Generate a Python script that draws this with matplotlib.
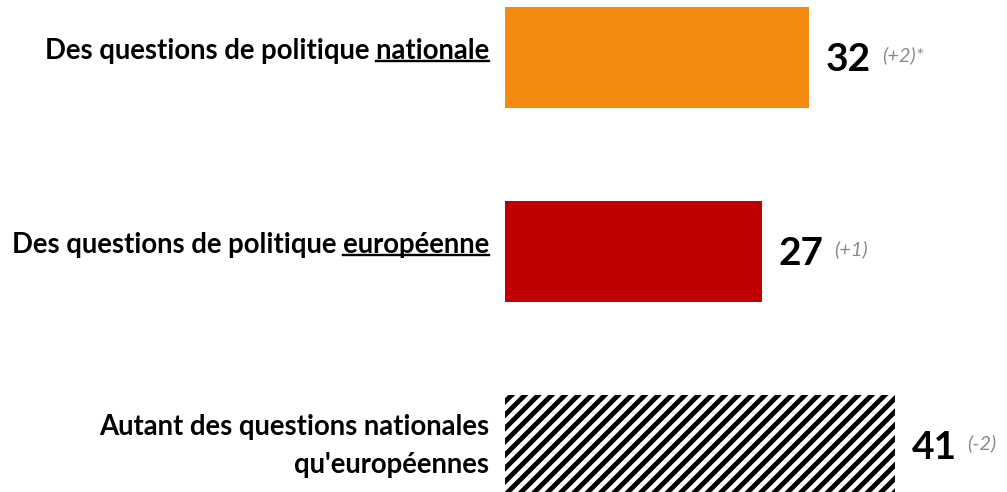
import matplotlib
matplotlib.use('Agg')
import matplotlib.pyplot as plt
import numpy as np

# data
labels = ['Des questions de politique nationale',
          'Des questions de politique européenne',
          "Autant des questions nationales\nqu'européennes"]
underlined = ['nationale', 'européenne', None]
values = [32, 27, 41]
deltas = ['(+2)*', '(+1)', '(-2)']
colors = ['#F18A0E', '#C00000', 'white']
hatches = [None, None, '//']

# lower dpi so the hatch stripes come out at the right spacing;
# S keeps point sizes equal to what they'd be at 100 dpi
DPI = 80
S = 100 / DPI

plt.rcParams['font.family'] = ['Lato', 'DejaVu Sans']
plt.rcParams['hatch.linewidth'] = 4.4

W, H = 1007, 492
fig = plt.figure(figsize=(W / DPI, H / DPI), dpi=DPI)
ax = fig.add_axes([505 / W, 0, 1 - 505 / W, 1])
px_per_unit = 9.5
ax.set_xlim(0, (W - 505) / px_per_unit)
spacing = 194
ax.set_ylim((H - 57.8) / spacing, -57.8 / spacing)
ax.axis('off')

y = np.arange(len(values))
for i in range(len(values)):
    ax.barh(y[i], values[i], height=101 / spacing, color=colors[i],
            hatch=hatches[i], edgecolor='black' if hatches[i] else colors[i],
            linewidth=0)

fig.canvas.draw()
r = fig.canvas.get_renderer()

lab_fs = 19.8 * S
for i, (lab, v, d) in enumerate(zip(labels, values, deltas)):
    dy = -0.035 if '\n' not in lab else 0.0
    t = ax.text(-16 / px_per_unit, y[i] + dy, lab, ha='right', va='center',
                fontsize=lab_fs, fontweight='bold', color='black',
                multialignment='right', linespacing=1.55)
    if underlined[i]:
        bb = t.get_window_extent(r)
        tmp = ax.text(0, 0, underlined[i], fontsize=lab_fs, fontweight='bold')
        wb = tmp.get_window_extent(r)
        tmp.remove()
        x1 = bb.x1
        x0 = x1 - wb.width
        yl = bb.y0 + 3
        fig.add_artist(plt.Line2D([x0 / W, x1 / W], [yl / H, yl / H],
                                  color='black', linewidth=1.7 * S,
                                  transform=fig.transFigure))
    nt = ax.text(v + 17 / px_per_unit, y[i] + 0.01, str(v), ha='left',
                 va='center', fontsize=28 * S, fontweight='bold', color='black')
    nb = nt.get_window_extent(r)
    x_delta = ax.transData.inverted().transform((nb.x1 + 11, 0))[0]
    ax.text(x_delta, y[i] - 0.015, d, ha='left', va='center', fontsize=14.5 * S,
            style='italic', color='#8C8C8C')

fig.savefig('out.png', dpi=DPI)
